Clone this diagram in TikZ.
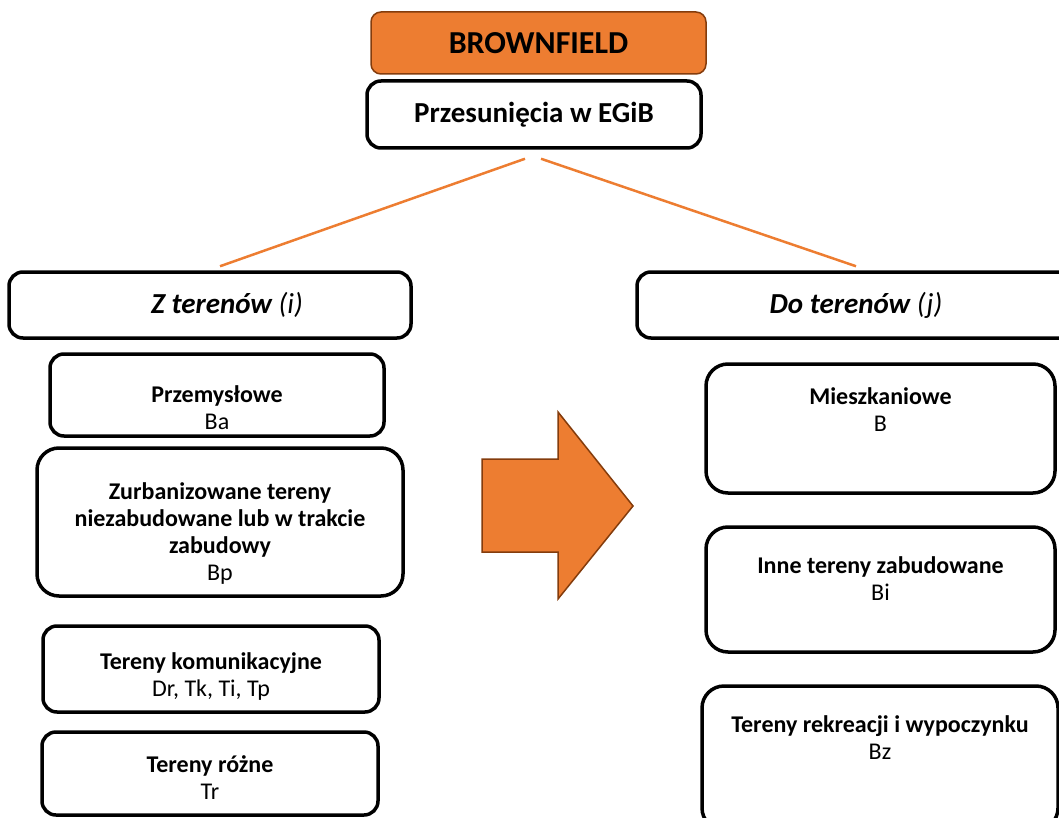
\documentclass[tikz,border=0pt]{standalone}
\usepackage{fontspec}
\setmainfont{Carlito}
\usetikzlibrary{positioning}
\definecolor{brorange}{HTML}{ED7D31}
\definecolor{brbrown}{HTML}{843C0C}
\tikzset{
  cell/.style={draw=black,line width=3.5pt,rounded corners=14pt,inner sep=0pt},
  bigcell/.style={cell,rounded corners=22pt},
  txt/.style={align=center,inner sep=0pt,font=\fontsize{24}{27}\selectfont},
  link/.style={draw=brorange,line width=2.5pt}
}
\begin{document}
\begin{tikzpicture}[x=1pt,y=-1pt]
  \useasboundingbox (0,0) rectangle (1059,818);
  \clip (0,0) rectangle (1059,818);
  \node[cell,fill=brorange,draw=brbrown,line width=1.5pt,rounded corners=10pt,
        minimum width=335pt,minimum height=62pt,
        font=\fontsize{32}{36}\selectfont\bfseries] (brown) at (538.5,43) {BROWNFIELD};
  \node[cell,minimum width=334pt,minimum height=67pt,
        font=\fontsize{29}{33}\selectfont\bfseries] (przes) at (534,114.5) {Przesunięcia w EGiB};
  \node[cell,minimum width=402pt,minimum height=66pt] (zter) at (210,305) {};
  \node[inner sep=0pt,font=\fontsize{29}{33}\selectfont\itshape] (zterT)
    at ([xshift=17pt]zter.center) {\textbf{Z terenów} (i)};
  \node[cell,minimum width=438pt,minimum height=66pt,
        font=\fontsize{29}{33}\selectfont\itshape] (doter) at (856,305) {\textbf{Do terenów} (j)};
  \draw[link] ([xshift=-9pt,yshift=-9pt]przes.south) -- ([xshift=10pt,yshift=4pt]zter.north);
  \draw[link] ([xshift=7pt,yshift=-9pt]przes.south) -- ([yshift=4pt]doter.north);

  \node[cell,minimum width=334pt,minimum height=82pt] (przem) at (217,395) {};
  \node[txt] (przemT) at ([yshift=-12.5pt]przem.center) {\textbf{Przemysłowe}\\Ba};
  \node[bigcell,minimum width=366pt,minimum height=148pt] (zurb) at (220,522) {};
  \node[txt] (zurbT) at ([yshift=-12pt]zurb.center)
    {\textbf{Zurbanizowane tereny}\\\textbf{niezabudowane lub w trakcie}\\\textbf{zabudowy}\\Bp};
  \node[cell,minimum width=336pt,minimum height=86pt] (komun) at (211,669) {};
  \node[txt] (komunT) at ([yshift=-7.5pt]komun.center) {\textbf{Tereny komunikacyjne}\\Dr, Tk, Ti, Tp};
  \node[cell,minimum width=336pt,minimum height=83pt] (rozne) at (210,773.5) {};
  \node[txt] (rozneT) at ([yshift=-4.5pt]rozne.center) {\textbf{Tereny różne}\\Tr};

  \node[bigcell,minimum width=349pt,minimum height=129pt] (miesz) at (880.5,428.5) {};
  \node[txt] (mieszT) at ([yshift=18.5pt]miesz.center) {\textbf{Mieszkaniowe}\\B};
  \node[bigcell,minimum width=349pt,minimum height=125pt] (inne) at (880.5,589.5) {};
  \node[txt] (inneT) at ([yshift=11pt]inne.center) {\textbf{Inne tereny zabudowane}\\Bi};
  \node[bigcell,minimum width=356pt,minimum height=144pt] (rekre) at (880,758) {};
  \node[txt] (rekreT) at ([yshift=20pt]rekre.center) {\textbf{Tereny rekreacji i wypoczynku}\\Bz};

  \draw[fill=brorange,draw=brbrown,line width=1.5pt]
    (482,459) -- (558,459) -- (558,412) -- (633,506) -- (558,599) -- (558,552) -- (482,552) -- cycle;
\end{tikzpicture}
\end{document}
